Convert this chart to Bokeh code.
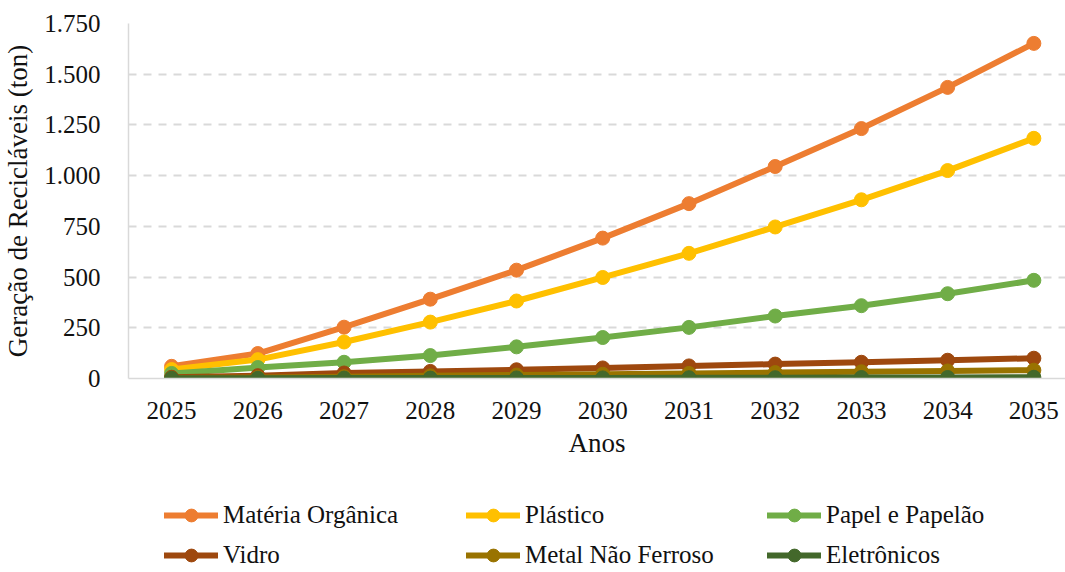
from bokeh.plotting import figure
from bokeh.models import FixedTicker, Legend, LegendItem, ColumnDataSource
from bokeh.layouts import column
from bokeh.embed import file_html
from bokeh.resources import INLINE

# Projected generation of recyclables per material (tons), 2025-2035
anos = [2025, 2026, 2027, 2028, 2029, 2030, 2031, 2032, 2033, 2034, 2035]
materia_organica = [60, 123, 253, 391, 534, 692, 862, 1045, 1232, 1435, 1652]
plastico = [44, 93, 180, 278, 382, 498, 617, 747, 881, 1025, 1184]
papel_papelao = [25, 54, 80, 113, 156, 202, 252, 308, 359, 418, 484]
vidro = [6, 14, 27, 35, 43, 52, 62, 71, 80, 90, 100]
metal_nao_ferroso = [2, 5, 9, 13, 17, 21, 25, 29, 33, 37, 41]
eletronicos = [1, 1, 2, 2, 3, 3, 4, 4, 5, 5, 6]

series_names = ["Matéria Orgânica", "Plástico", "Papel e Papelão",
                "Vidro", "Metal Não Ferroso", "Eletrônicos"]
series_values = [materia_organica, plastico, papel_papelao,
                 vidro, metal_nao_ferroso, eletronicos]
series_colors = ["#ED7D31", "#FFC000", "#70AD47", "#9E480E", "#997300", "#43682B"]

y_ticks = [0, 250, 500, 750, 1000, 1250, 1500, 1750]
y_tick_labels = ["0", "250", "500", "750", "1.000", "1.250", "1.500", "1.750"]

FONT = "Liberation Serif"
TEXT = "#111111"
GRID = "#D9D9D9"
LINE_W = 6
MARK = 14

CHART_H = 472
LEGEND_H = 572 - CHART_H

p = figure(width=1065, height=CHART_H, output_backend="svg", toolbar_location=None,
           x_range=(2024.5, 2035.367), y_range=(0, 1750),
           min_border_left=125, min_border_right=0, min_border_top=23,
           min_border_bottom=CHART_H - 378)
p.outline_line_color = None
p.border_fill_color = "white"

# axes
p.xaxis.ticker = FixedTicker(ticks=anos)
p.yaxis.ticker = FixedTicker(ticks=y_ticks)
p.yaxis.major_label_overrides = {t: s for t, s in zip(y_ticks, y_tick_labels)}
for ax in (p.xaxis[0], p.yaxis[0]):
    ax.axis_line_color = GRID
    ax.axis_line_width = 1.5
    ax.major_tick_line_color = None
    ax.minor_tick_line_color = None
    ax.major_label_text_font = FONT
    ax.major_label_text_font_size = "25px"
    ax.major_label_text_color = TEXT
    ax.axis_label_text_font = FONT
    ax.axis_label_text_font_size = "27px"
    ax.axis_label_text_font_style = "normal"
    ax.axis_label_text_color = TEXT

p.xaxis.axis_label = "Anos"
p.xaxis.major_label_standoff = 17
p.xaxis.axis_label_standoff = 6
p.yaxis.axis_label = "Geração de Recicláveis (ton)"
p.yaxis.major_label_standoff = 22
p.yaxis.axis_label_standoff = 8

# grid
p.xgrid.grid_line_color = None
p.ygrid.ticker = FixedTicker(ticks=y_ticks[1:])
p.ygrid.grid_line_color = GRID
p.ygrid.grid_line_width = 2
p.ygrid.grid_line_dash = "8 7"

for vals, color in zip(series_values, series_colors):
    src = ColumnDataSource(dict(x=anos, y=vals))
    p.line("x", "y", source=src, line_color=color, line_width=LINE_W,
           line_join="round", line_cap="round")
    p.scatter("x", "y", source=src, size=MARK, fill_color=color,
              line_color=color, line_width=1)

# legend strip below the chart: three columns of two rows.
# Its series sit outside the strip's ranges, so only the legend shows.
lg = figure(width=1065, height=LEGEND_H, output_backend="svg", toolbar_location=None,
            x_range=(0, 1), y_range=(0, 1), min_border=0)
lg.axis.visible = False
lg.grid.visible = False
lg.outline_line_color = None

items = []
for name, vals, color in zip(series_names, series_values, series_colors):
    src = ColumnDataSource(dict(x=anos, y=vals))
    ln = lg.line("x", "y", source=src, line_color=color, line_width=LINE_W,
                 line_cap="round")
    sc = lg.scatter("x", "y", source=src, fill_color=color, line_color=color)
    items.append(LegendItem(label=name, renderers=[ln, sc]))

# column offsets, measured from the strip's frame (aligned with the chart frame)
col_x = [36, 338, 639]
for c in range(3):
    leg = Legend(items=[items[c], items[c + 3]], location=(col_x[c], 1),
                 orientation="vertical")
    leg.glyph_width = 54
    leg.glyph_height = 32
    leg.label_height = 30
    leg.spacing = 8
    leg.label_standoff = 5
    leg.padding = 0
    leg.margin = 0
    leg.border_line_color = None
    leg.background_fill_alpha = 0
    leg.label_text_font = FONT
    leg.label_text_font_size = "25px"
    leg.label_text_color = TEXT
    lg.add_layout(leg, "center")

open("out.html", "w").write(file_html(column(p, lg, spacing=0), INLINE))
